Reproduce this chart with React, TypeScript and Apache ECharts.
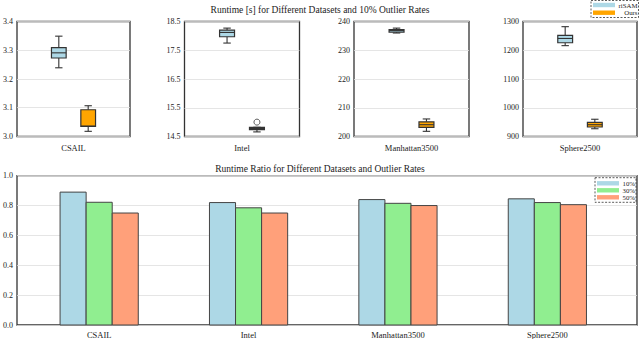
import React, { useEffect, useRef } from "react";
import * as echarts from "echarts";

// ---------- data ----------
const datasets = ["CSAIL", "Intel", "Manhattan3500", "Sphere2500"];
const methods = ["riSAM", "Ours"];
// box stats: [min, q1, median, q3, max]
const risamBoxes = [
  [3.239, 3.273, 3.291, 3.309, 3.349],
  [17.75, 17.97, 18.12, 18.2, 18.27],
  [236.0, 236.3, 236.9, 237.2, 237.7],
  [1216, 1226, 1241, 1252, 1282],
];
const oursBoxes = [
  [3.018, 3.035, 3.036, 3.093, 3.107],
  [14.66, 14.74, 14.78, 14.82, 14.82],
  [201.8, 203.2, 204.1, 205.1, 206.1],
  [927, 933, 941, 949, 960],
];
// outliers: [datasetIndex, methodIndex, value]
const outliers = [[1, 1, 15.0]];
const yMins = [3.0, 14.5, 200, 900];
const yMaxs = [3.4, 18.5, 240, 1300];
const yIntervals = [0.1, 1, 10, 100];
const yDecimals = [1, 1, 0, 0];

const rateLabels = ["10%", "30%", "50%"];
const ratio10 = [0.89, 0.82, 0.84, 0.845];
const ratio30 = [0.822, 0.785, 0.815, 0.82];
const ratio50 = [0.75, 0.75, 0.8, 0.806];

const topTitle = "Runtime [s] for Different Datasets and 10% Outlier Rates";
const bottomTitle = "Runtime Ratio for Different Datasets and Outlier Rates";

// ---------- styles ----------
const FONT = "'Liberation Serif', 'Times New Roman', serif";
const methodColors = ["#add8e6", "#ffa500"];
const rateColors = ["#add8e6", "#90ee90", "#ffa07a"];
const BOX_OFF = 0.13;
const BOX_W = 0.13;
const BAR_W = 0.1745;
const topLefts = [15, 184.5, 354, 523];
const TOP_W = 115;

export default function App() {
  const ref = useRef<HTMLDivElement>(null);

  useEffect(() => {
    if (!ref.current) return;
    const chart = echarts.init(ref.current, null, { renderer: "svg" });

    const grids: any[] = [];
    const xAxes: any[] = [];
    const yAxes: any[] = [];
    const series: any[] = [];

    const boxRender = (color: string) => (params: any, api: any) => {
      const x = api.value(0);
      const lo = api.value(1), q1 = api.value(2), med = api.value(3), q3 = api.value(4), hi = api.value(5);
      const w = api.size([BOX_W, 0])[0];
      const cw = w * 0.5;
      const pLo = api.coord([x, lo]);
      const pQ1 = api.coord([x, q1]);
      const pMed = api.coord([x, med]);
      const pQ3 = api.coord([x, q3]);
      const pHi = api.coord([x, hi]);
      const cx = pMed[0];
      const stroke = { stroke: "#333", lineWidth: 1.1 };
      return {
        type: "group",
        children: [
          { type: "line", shape: { x1: cx, y1: pQ3[1], x2: cx, y2: pHi[1] }, style: stroke },
          { type: "line", shape: { x1: cx, y1: pQ1[1], x2: cx, y2: pLo[1] }, style: stroke },
          { type: "line", shape: { x1: cx - cw / 2, y1: pHi[1], x2: cx + cw / 2, y2: pHi[1] }, style: stroke },
          { type: "line", shape: { x1: cx - cw / 2, y1: pLo[1], x2: cx + cw / 2, y2: pLo[1] }, style: stroke },
          {
            type: "rect",
            shape: { x: cx - w / 2, y: pQ3[1], width: w, height: pQ1[1] - pQ3[1] },
            style: { fill: color, stroke: "#333", lineWidth: 1.2 },
          },
          { type: "line", shape: { x1: cx - w / 2, y1: pMed[1], x2: cx + w / 2, y2: pMed[1] }, style: stroke },
        ],
      };
    };

    datasets.forEach((name, i) => {
      grids.push({
        left: topLefts[i],
        top: 21.5,
        width: TOP_W,
        height: 115,
        show: true,
        borderColor: "#333",
        borderWidth: 1.3,
        backgroundColor: "transparent",
      });
      xAxes.push({
        type: "value",
        gridIndex: i,
        min: -0.5,
        max: 0.5,
        interval: 0.5,
        axisLine: { show: false },
        axisTick: { show: false },
        splitLine: { show: false },
        axisLabel: {
          fontFamily: FONT,
          fontSize: 8.5,
          color: "#222",
          margin: 7,
          formatter: (v: number) => (Math.abs(v) < 1e-9 ? name : ""),
        },
      });
      yAxes.push({
        type: "value",
        gridIndex: i,
        min: yMins[i],
        max: yMaxs[i],
        interval: yIntervals[i],
        axisLine: { show: false },
        axisTick: { show: false },
        splitLine: { show: true, lineStyle: { color: "#dedede", width: 0.8 } },
        axisLabel: {
          fontFamily: FONT,
          fontSize: 8,
          color: "#222",
          margin: 4,
          formatter: (v: number) => v.toFixed(yDecimals[i]),
        },
      });
      const boxSets = [risamBoxes, oursBoxes];
      methods.forEach((m, mi) => {
        const off = mi === 0 ? -BOX_OFF : BOX_OFF;
        series.push({
          type: "custom",
          name: m,
          xAxisIndex: i,
          yAxisIndex: i,
          renderItem: boxRender(methodColors[mi]),
          encode: { x: 0, y: [1, 2, 3, 4, 5] },
          data: [[off, ...boxSets[mi][i]]],
          z: 3,
        });
      });
      const outs = outliers.filter((o) => o[0] === i);
      if (outs.length) {
        series.push({
          type: "scatter",
          xAxisIndex: i,
          yAxisIndex: i,
          symbol: "circle",
          symbolSize: 6,
          itemStyle: { color: "#fff", borderColor: "#333", borderWidth: 1 },
          data: outs.map((o) => [o[1] === 0 ? -BOX_OFF : BOX_OFF, o[2]]),
          z: 4,
        });
      }
    });

    // bottom bar chart
    const bi = datasets.length;
    grids.push({
      left: 15,
      top: 175.7,
      right: 3,
      height: 150,
      show: true,
      borderColor: "#333",
      borderWidth: 1.3,
      backgroundColor: "transparent",
    });
    xAxes.push({
      type: "value",
      gridIndex: bi,
      min: -0.55,
      max: 3.6,
      interval: 0.05,
      axisLine: { show: false },
      axisTick: { show: false },
      splitLine: { show: false },
      axisLabel: {
        interval: 0,
        fontFamily: FONT,
        fontSize: 8.5,
        color: "#222",
        margin: 5,
        formatter: (v: number) => {
          const r = Math.round(v);
          return Math.abs(v - r) < 1e-6 && r >= 0 && r < datasets.length ? datasets[r] : "";
        },
      },
    });
    yAxes.push({
      type: "value",
      gridIndex: bi,
      min: 0,
      max: 1,
      interval: 0.2,
      axisLine: { show: false },
      axisTick: { show: false },
      splitLine: { show: true, lineStyle: { color: "#dedede", width: 0.8 } },
      axisLabel: {
        fontFamily: FONT,
        fontSize: 8,
        color: "#222",
        margin: 4,
        formatter: (v: number) => v.toFixed(1),
      },
    });
    const ratios = [ratio10, ratio30, ratio50];
    rateLabels.forEach((lab, ri) => {
      const off = (ri - 1) * BAR_W;
      series.push({
        type: "custom",
        name: lab,
        xAxisIndex: bi,
        yAxisIndex: bi,
        encode: { x: 0, y: 1 },
        data: ratios[ri].map((v, di) => [di, v]),
        renderItem: (params: any, api: any) => {
          const x = api.value(0) + off;
          const v = api.value(1);
          const top = api.coord([x, v]);
          const base = api.coord([x, 0]);
          const w = api.size([BAR_W, 0])[0];
          return {
            type: "rect",
            shape: { x: top[0] - w / 2, y: top[1], width: w, height: base[1] - top[1] },
            style: { fill: rateColors[ri], stroke: "#444", lineWidth: 1 },
          };
        },
        z: 3,
      });
    });

    // legends drawn as graphic
    const graphic: any[] = [];
    const legendFont = { fontFamily: FONT, fontSize: 6.8, fill: "#222" };
    graphic.push({
      type: "rect",
      shape: { x: 591, y: 0.5, width: 47.5, height: 17 },
      style: { fill: "#fff", stroke: "#333", lineWidth: 0.8, lineDash: [2, 1.5] },
      z: 100,
    });
    methods.forEach((m, mi) => {
      const cy = 5 + mi * 7.7;
      graphic.push({
        type: "rect",
        shape: { x: 593, y: cy - 2.2, width: 22, height: 4.4 },
        style: { fill: methodColors[mi] },
        z: 101,
      });
      graphic.push({
        type: "text",
        style: { ...legendFont, text: m, x: 637.5, y: cy, align: "right", verticalAlign: "middle", lineHeight: 7 },
        z: 101,
      });
    });
    graphic.push({
      type: "rect",
      shape: { x: 595, y: 177.7, width: 41, height: 24.6 },
      style: { fill: "#fff", stroke: "#333", lineWidth: 0.8, lineDash: [2, 1.5] },
      z: 100,
    });
    rateLabels.forEach((lab, ri) => {
      const cy = 183.3 + ri * 7;
      graphic.push({
        type: "rect",
        shape: { x: 597, y: cy - 2.2, width: 22, height: 4.4 },
        style: { fill: rateColors[ri] },
        z: 101,
      });
      graphic.push({
        type: "text",
        style: { ...legendFont, text: lab, x: 635, y: cy, align: "right", verticalAlign: "middle", lineHeight: 6.8 },
        z: 101,
      });
    });

    chart.setOption({
      animation: false,
      backgroundColor: "#fff",
      title: [
        {
          text: topTitle,
          left: "center",
          top: 0,
          textStyle: { fontFamily: FONT, fontSize: 9.5, fontWeight: "normal", color: "#222" },
        },
        {
          text: bottomTitle,
          left: "center",
          top: 158.5,
          textStyle: { fontFamily: FONT, fontSize: 9.5, fontWeight: "normal", color: "#222" },
        },
      ],
      grid: grids,
      xAxis: xAxes,
      yAxis: yAxes,
      series,
      graphic,
    });

    return () => chart.dispose();
  }, []);

  return (
    <div
      ref={ref}
      style={{ position: "fixed", left: 0, top: 0, width: 640, height: 339 }}
    />
  );
}
